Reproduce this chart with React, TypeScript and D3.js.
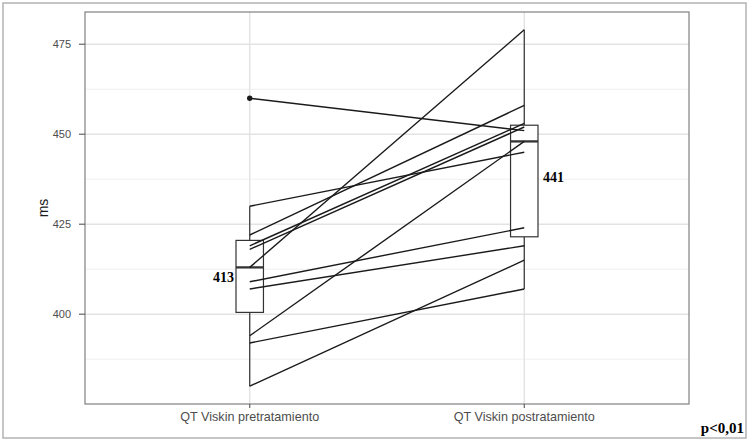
import React from "react";
import * as d3 from "d3";

const categories = ["QT Viskin pretratamiento", "QT Viskin postratamiento"];
const preValues = [460, 430, 422, 419, 418, 413, 409, 407, 394, 392, 380];
const postValues = [451, 445, 458, 453, 452, 479, 424, 419, 448, 407, 415];
const yTicks = [400, 425, 450, 475];
const yMinorTicks = [387.5, 412.5, 437.5, 462.5];
const pLabel = "p<0,01";
const yLabel = "ms";

const W = 750;
const H = 441;
const panel = { left: 85, right: 689, top: 12, bottom: 404 };

function boxStats(values: number[]) {
  const s = [...values].sort((a, b) => a - b);
  const q1 = d3.quantile(s, 0.25)!;
  const med = d3.quantile(s, 0.5)!;
  const q3 = d3.quantile(s, 0.75)!;
  const iqr = q3 - q1;
  const lo = q1 - 1.5 * iqr;
  const hi = q3 + 1.5 * iqr;
  const inside = s.filter((v) => v >= lo && v <= hi);
  const outliers = s.filter((v) => v < lo || v > hi);
  return {
    q1,
    med,
    q3,
    wLo: d3.min(inside)!,
    wHi: d3.max(inside)!,
    outliers,
    mean: d3.mean(s)!,
  };
}

export default function App() {
  const all = [...preValues, ...postValues];
  const [mn, mx] = d3.extent(all) as [number, number];
  const pad = (mx - mn) * 0.05;
  const y = d3.scaleLinear().domain([mn - pad, mx + pad]).range([panel.bottom, panel.top]);
  const x = d3
    .scalePoint<string>()
    .domain(categories)
    .range([panel.left, panel.right])
    .padding(0.6);
  const step = x.step();
  const boxW = step * 0.1;

  const groups = [preValues, postValues].map((v, i) => ({
    cat: categories[i],
    stats: boxStats(v),
  }));

  const pairs = preValues.map((v, i) => [v, postValues[i]]);
  const line = d3
    .line<[string, number]>()
    .x((d) => x(d[0])!)
    .y((d) => y(d[1]));

  const axisCol = "#4d4d4d";
  const sans = "'Liberation Sans', Arial, sans-serif";
  const serif = "'Liberation Serif', 'Times New Roman', serif";

  return (
    <svg
      width={W}
      height={H}
      style={{ position: "absolute", left: 0, top: 0, background: "#fff" }}
    >
      <rect x={0} y={0} width={W} height={H} fill="#fff" />
      <rect x={3} y={3} width={743} height={435} fill="none" stroke="#b3b3b3" strokeWidth={1.5} />

      {/* grid */}
      {yMinorTicks.map((t) => (
        <line key={"mi" + t} x1={panel.left} x2={panel.right} y1={y(t)} y2={y(t)} stroke="#f0f0f0" strokeWidth={1} />
      ))}
      {yTicks.map((t) => (
        <line key={"ma" + t} x1={panel.left} x2={panel.right} y1={y(t)} y2={y(t)} stroke="#e3e3e3" strokeWidth={1.4} />
      ))}
      {categories.map((c) => (
        <line key={"vx" + c} x1={x(c)} x2={x(c)} y1={panel.top} y2={panel.bottom} stroke="#e3e3e3" strokeWidth={1.4} />
      ))}

      {/* boxplots */}
      {groups.map(({ cat, stats }) => {
        const cx = x(cat)!;
        return (
          <g key={"b" + cat} stroke="#333" fill="none">
            <line x1={cx} x2={cx} y1={y(stats.q3)} y2={y(stats.wHi)} strokeWidth={1.2} />
            <line x1={cx} x2={cx} y1={y(stats.q1)} y2={y(stats.wLo)} strokeWidth={1.2} />
            <rect
              x={cx - boxW / 2}
              y={y(stats.q3)}
              width={boxW}
              height={y(stats.q1) - y(stats.q3)}
              fill="#fff"
              strokeWidth={1.2}
            />
            <line x1={cx - boxW / 2} x2={cx + boxW / 2} y1={y(stats.med)} y2={y(stats.med)} strokeWidth={2.3} />
          </g>
        );
      })}

      {/* paired lines */}
      {pairs.map((p, i) => (
        <path
          key={"l" + i}
          d={line([
            [categories[0], p[0]],
            [categories[1], p[1]],
          ])!}
          fill="none"
          stroke="#1a1a1a"
          strokeWidth={1.4}
        />
      ))}

      {/* outliers */}
      {groups.map(({ cat, stats }) =>
        stats.outliers.map((o, j) => (
          <circle key={"o" + cat + j} cx={x(cat)} cy={y(o)} r={2.7} fill="#1a1a1a" />
        ))
      )}

      {/* mean labels */}
      <text
        x={x(categories[0])! - boxW / 2 - 2}
        y={y(groups[0].stats.mean) + 15}
        textAnchor="end"
        fontFamily={serif}
        fontWeight="bold"
        fontSize={14}
        fill="#000"
      >
        {Math.round(groups[0].stats.mean)}
      </text>
      <text
        x={x(categories[1])! + boxW / 2 + 5}
        y={y(groups[1].stats.mean) + 15}
        textAnchor="start"
        fontFamily={serif}
        fontWeight="bold"
        fontSize={14}
        fill="#000"
      >
        {Math.round(groups[1].stats.mean)}
      </text>

      {/* panel border */}
      <rect
        x={panel.left}
        y={panel.top}
        width={panel.right - panel.left}
        height={panel.bottom - panel.top}
        fill="none"
        stroke="#808080"
        strokeWidth={1.2}
      />

      {/* y axis */}
      {yTicks.map((t) => (
        <g key={"yt" + t}>
          <line x1={panel.left - 6} x2={panel.left} y1={y(t)} y2={y(t)} stroke="#555" strokeWidth={1.1} />
          <text
            x={panel.left - 14}
            y={y(t)}
            dy="0.35em"
            textAnchor="end"
            fontFamily={sans}
            fontSize={11}
            fill={axisCol}
          >
            {t}
          </text>
        </g>
      ))}
      <text
        transform={`translate(48, ${(panel.top + panel.bottom) / 2}) rotate(-90)`}
        textAnchor="middle"
        fontFamily={sans}
        fontSize={14}
        fill="#1a1a1a"
      >
        {yLabel}
      </text>

      {/* x axis */}
      {categories.map((c) => (
        <g key={"xt" + c}>
          <line x1={x(c)} x2={x(c)} y1={panel.bottom} y2={panel.bottom + 4} stroke="#555" strokeWidth={1.1} />
          <text
            x={x(c)}
            y={panel.bottom + 17}
            textAnchor="middle"
            fontFamily={sans}
            fontSize={12.6}
            fill={axisCol}
          >
            {c}
          </text>
        </g>
      ))}

      <text x={744} y={433} textAnchor="end" fontFamily={serif} fontWeight="bold" fontSize={15} fill="#000">
        {pLabel}
      </text>
    </svg>
  );
}
